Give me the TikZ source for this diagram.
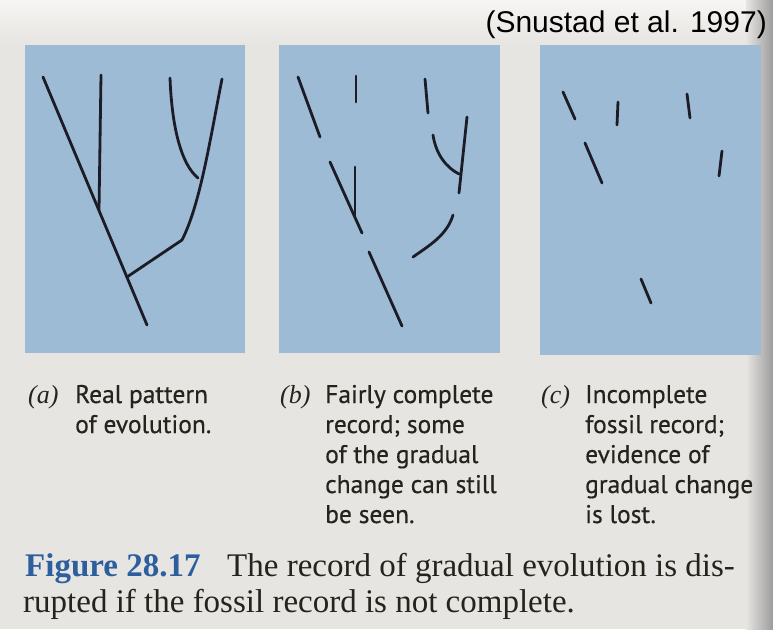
\documentclass[tikz,border=0pt]{standalone}
\usepackage{fontspec}
\setmainfont{Liberation Serif}
\newfontfamily\capsf[FakeBold=0.5]{PT Sans}
\newfontfamily\titlesf{Liberation Sans}
\definecolor{bg}{HTML}{E7E5E1}
\definecolor{bgtop}{HTML}{F6F5F3}
\definecolor{edge}{HTML}{9C9C9C}
\definecolor{panel}{HTML}{9EBBD6}
\definecolor{ink}{HTML}{1C1C26}
\definecolor{figblue}{HTML}{2D5F9E}
\definecolor{captxt}{HTML}{24241C}
\begin{document}
\begin{tikzpicture}[x=1pt,y=-1pt,
  branch/.style={draw=ink,line width=2.8pt,line cap=round},
  panelbox/.style={fill=panel,draw=none},
  captag/.style={anchor=base west,inner sep=0pt,text=captxt,font=\fontsize{26}{30}\selectfont\itshape},
  captext/.style={anchor=base west,inner sep=0pt,text=captxt,font=\capsf\fontsize{25.5}{30}\selectfont},
  figtext/.style={anchor=base west,inner sep=0pt,text=captxt,font=\fontsize{33}{36}\selectfont},
  figlabel/.style={anchor=base west,inner sep=0pt,text=figblue,font=\fontsize{33}{36}\selectfont\bfseries},
  source/.style={anchor=base east,inner sep=0pt,text=black,font=\titlesf\fontsize{30}{34}\selectfont}]
\useasboundingbox (0,0) rectangle (773,629);
% background
\fill[bg] (0,0) rectangle (773,629);
\fill[top color=bgtop,bottom color=bg] (0,0) rectangle (773,45);
\fill[left color=bg,right color=edge] (746,0) rectangle (773,629);
% panels
\fill[panelbox] (25,45) rectangle (245,353);
\fill[panelbox] (279,45) rectangle (500,353);
\fill[panelbox] (540,45) rectangle (761,355);
% (a) real pattern
\draw[branch] (43,77) -- (147,325);
\draw[branch] (101,75) -- (99,210);
\draw[branch] (127,277) -- (182,240) .. controls (200,205) and (210,140) .. (222,79);
\draw[branch] (170,78) .. controls (172,130) and (182,165) .. (198,178);
% (b) fairly complete record
\draw[branch] (298,77) -- (320,137);
\draw[branch] (356,76) -- (356,102);
\draw[branch] (330,162) -- (362,233);
\draw[branch] (355,167) -- (355,217);
\draw[branch] (369,252) -- (402,326);
\draw[branch] (425,79) -- (428,113);
\draw[branch] (433,135) .. controls (436,155) and (447,168) .. (459,174);
\draw[branch] (467,117) -- (459,193);
\draw[branch] (453,215) .. controls (447,235) and (430,245) .. (413,257);
% (c) incomplete record
\draw[branch] (563,92) -- (575,119);
\draw[branch] (618,102) -- (617,125);
\draw[branch] (687,94) -- (690,118);
\draw[branch] (585,143) -- (602,183);
\draw[branch] (722,151) -- (719,176);
\draw[branch] (641,279) -- (651,303);
% source
\node[source] (src) at (767,32) {(Snustad et al. 1997)};
% captions
\node[captag] (taga) at (28,403) {(a)};
\node[captext] (a1) at (75,403) {Real pattern};
\node[captext] (a2) at (75,433) {of evolution.};
\node[captag] (tagb) at (280,403) {(b)};
\node[captext] (b1) at (325,403) {Fairly complete};
\node[captext] (b2) at (325,433) {record; some};
\node[captext] (b3) at (325,463) {of the gradual};
\node[captext] (b4) at (325,493) {change can still};
\node[captext] (b5) at (325,523) {be seen.};
\node[captag] (tagc) at (541,403) {(c)};
\node[captext] (c1) at (585,403) {Incomplete};
\node[captext] (c2) at (585,433) {fossil record;};
\node[captext] (c3) at (585,463) {evidence of};
\node[captext] (c4) at (585,493) {gradual change};
\node[captext] (c5) at (585,523) {is lost.};
% figure caption
\node[figlabel] (fig) at (25,576) {Figure 28.17};
\node[figtext] (f1) at (227,576) {The record of gradual evolution is dis-};
\node[figtext] (f2) at (23,612) {rupted if the fossil record is not complete.};
\end{tikzpicture}
\end{document}
